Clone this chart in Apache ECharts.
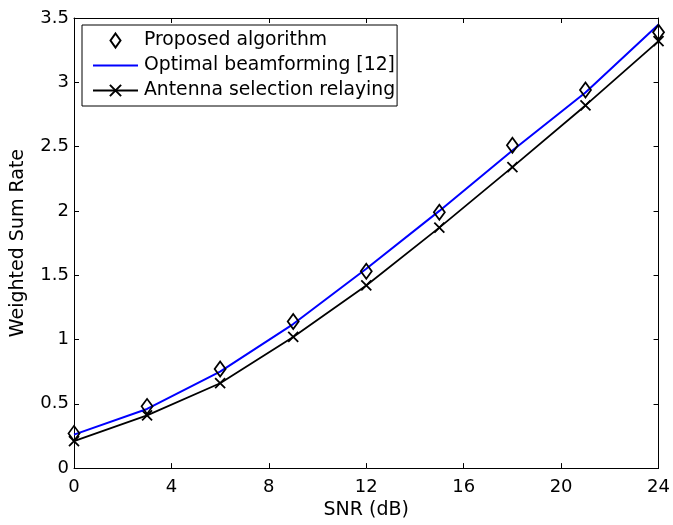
<!DOCTYPE html>
<html>
<head>
<meta charset="utf-8">
<script src="https://cdn.jsdelivr.net/npm/echarts@6/dist/echarts.min.js"></script>
<style>html,body{margin:0;padding:0;background:#fff;}#c{width:673px;height:525px;}</style>
</head>
<body>
<div id="c"></div>
<script>
const snr = [0, 3, 6, 9, 12, 15, 18, 21, 24];
const proposed = [0.27, 0.48, 0.77, 1.14, 1.53, 1.99, 2.51, 2.94, 3.39];
const optimal = [0.26, 0.46, 0.75, 1.12, 1.55, 2.00, 2.47, 2.92, 3.45];
const antenna = [0.21, 0.41, 0.66, 1.02, 1.42, 1.87, 2.34, 2.82, 3.32];
const xTicks = [0, 4, 8, 12, 16, 20, 24];
const yTicks = [0, 0.5, 1, 1.5, 2, 2.5, 3, 3.5];

const pair = (xs, ys) => xs.map((x, i) => [x, ys[i]]);
const font = 'DejaVu Sans, sans-serif';
const diamondPath = 'path://M5,0L10,7L5,14L0,7Z';
const crossPath = 'path://M0,0L10,10M10,0L0,10';
const axisCommon = {
  axisLine: { show: true, onZero: false, lineStyle: { color: '#000', width: 1 } },
  axisTick: { show: true, inside: true, length: 5, lineStyle: { color: '#000' } },
  splitLine: { show: false }
};

const chart = echarts.init(document.getElementById('c'), null, { renderer: 'canvas' });
chart.setOption({
  animation: false,
  backgroundColor: '#fff',
  grid: { left: 74, right: 14, top: 18, bottom: 51, containLabel: false },
  xAxis: [
    Object.assign({
      type: 'value', min: xTicks[0], max: xTicks[xTicks.length - 1], interval: 4,
      name: 'SNR (dB)', nameLocation: 'middle', nameGap: 26,
      nameTextStyle: { fontFamily: font, fontSize: 19, color: '#000' },
      axisLabel: { fontFamily: font, fontSize: 18, color: '#000', margin: 10 }
    }, axisCommon),
    Object.assign({
      type: 'value', position: 'top', min: xTicks[0], max: xTicks[xTicks.length - 1], interval: 4,
      axisLabel: { show: false }
    }, axisCommon)
  ],
  yAxis: [
    Object.assign({
      type: 'value', min: yTicks[0], max: yTicks[yTicks.length - 1], interval: 0.5,
      name: 'Weighted Sum Rate', nameLocation: 'middle', nameGap: 46,
      nameTextStyle: { fontFamily: font, fontSize: 19, color: '#000' },
      axisLabel: { fontFamily: font, fontSize: 18, color: '#000', margin: 5 }
    }, axisCommon),
    Object.assign({
      type: 'value', position: 'right', min: yTicks[0], max: yTicks[yTicks.length - 1], interval: 0.5,
      axisLabel: { show: false }
    }, axisCommon)
  ],
  legend: {
    orient: 'vertical', left: 82, top: 25,
    padding: [6, 2, 6, 10],
    itemGap: 6, itemWidth: 45, itemHeight: 14,
    backgroundColor: '#fff', borderColor: '#000', borderWidth: 1, borderRadius: 0,
    textStyle: { fontFamily: font, fontSize: 18.8, lineHeight: 19, color: '#000', padding: [0, 0, 0, 1] },
    data: [
      { name: 'Proposed algorithm', icon: diamondPath, symbolKeepAspect: true },
      { name: 'Optimal beamforming [12]', itemStyle: { opacity: 0 } },
      { name: 'Antenna selection relaying' }
    ]
  },
  series: [
    {
      name: 'Optimal beamforming [12]', type: 'line', data: pair(snr, optimal),
      showSymbol: false, symbol: 'none', z: 3,
      lineStyle: { color: '#0000ff', width: 2 }, itemStyle: { color: '#0000ff' }
    },
    {
      name: 'Antenna selection relaying', type: 'line', data: pair(snr, antenna),
      symbol: crossPath, symbolSize: 10, z: 2,
      lineStyle: { color: '#000', width: 1.8 },
      itemStyle: { color: '#000', borderColor: '#000', borderWidth: 1.8 }
    },
    {
      name: 'Proposed algorithm', type: 'scatter', data: pair(snr, proposed),
      symbol: diamondPath, symbolSize: [11, 15], z: 4,
      itemStyle: { color: 'rgba(255,255,255,0)', borderColor: '#000', borderWidth: 1.8, opacity: 1 }
    }
  ]
});
</script>
</body>
</html>
